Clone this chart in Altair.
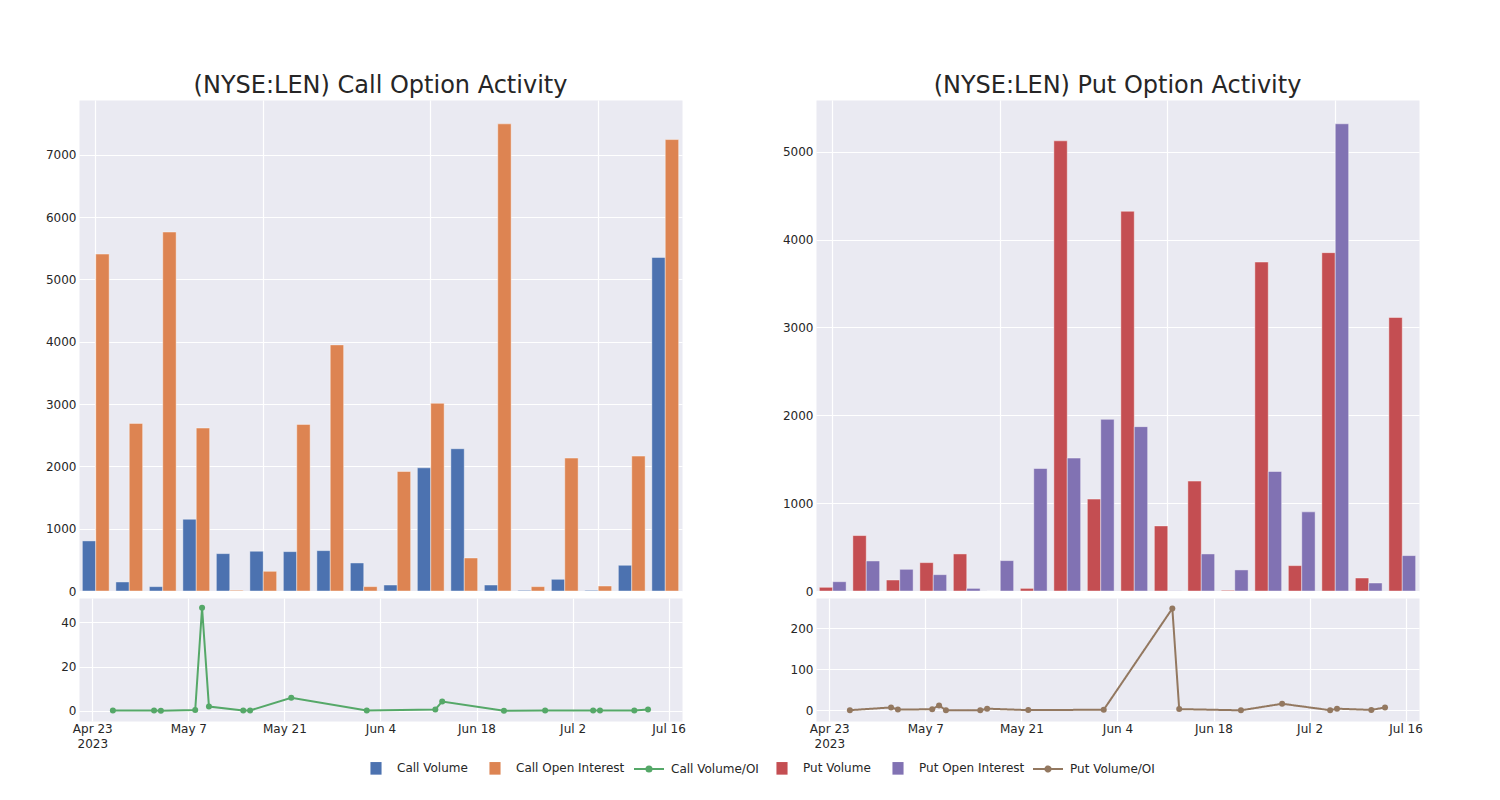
import altair as alt
import pandas as pd

# ---------------- data ----------------
dates = ["2023-04-26", "2023-05-02", "2023-05-03", "2023-05-08", "2023-05-09", "2023-05-10",
         "2023-05-15", "2023-05-16", "2023-05-22", "2023-06-02", "2023-06-12", "2023-06-13",
         "2023-06-22", "2023-06-28", "2023-07-05", "2023-07-06", "2023-07-11", "2023-07-13"]

call_volume = [804, 145, 70, 1152, 600, 638, 632, 648, 450, 96, 1977, 2283, 96, 11, 188, 11, 413, 5354]
call_oi = [5407, 2690, 5761, 2615, 12, 316, 2674, 3950, 70, 1918, 3012, 530, 7497, 70, 2133, 80, 2165, 7245]
call_ratio = [0.1, 0.05, 0.0, 0.3, 46.7, 1.9, 0.1, 0.1, 5.9, 0.05, 0.6, 4.2, 0.0, 0.1, 0.05, 0.1, 0.1, 0.6]

put_volume = [42, 631, 125, 323, 422, 0, 30, 5125, 1046, 4323, 741, 1251, 8, 3745, 289, 3852, 148, 3114]
put_oi = [106, 342, 247, 186, 30, 346, 1395, 1513, 1954, 1871, 3, 422, 240, 1361, 901, 5319, 91, 403]
put_ratio = [0.4, 7.0, 2.0, 2.5, 12.0, 0.0, 0.0, 4.0, 0.5, 1.5, 248.0, 3.0, 0.0, 16.0, 0.3, 4.0, 1.0, 7.0]

SERIES = ["Call Volume", "Call Open Interest", "Call Volume/OI",
          "Put Volume", "Put Open Interest", "Put Volume/OI"]
COLORS = ["#4C72B0", "#DD8452", "#55A868", "#C44E52", "#8172B3", "#937860"]
KINDS = ["Volume", "Open Interest"]

grid_dates = ["2023-04-23", "2023-05-07", "2023-05-21", "2023-06-04", "2023-06-18", "2023-07-02", "2023-07-16"]

# ---------------- tables ----------------
def long_bars(vol, oi, names):
    rows = []
    for d, v, o in zip(dates, vol, oi):
        rows.append({"date": d, "kind": KINDS[0], "series": names[0], "value": v})
        rows.append({"date": d, "kind": KINDS[1], "series": names[1], "value": o})
    return pd.DataFrame(rows)

call_bars_df = long_bars(call_volume, call_oi, SERIES[0:2])
put_bars_df = long_bars(put_volume, put_oi, SERIES[3:5])
call_line_df = pd.DataFrame({"date": dates, "series": SERIES[2], "value": call_ratio})
put_line_df = pd.DataFrame({"date": dates, "series": SERIES[5], "value": put_ratio})

# ---------------- styling ----------------
FONT = "DejaVu Sans"
TXT = "#262626"
SQUARE = "M-0.37,-0.42H0.37V0.42H-0.37Z"
LINEDOT = "M-1,0H1M0.17,0A0.17,0.17 0 1 1 -0.17,0A0.17,0.17 0 1 1 0.17,0Z"

PW = 603
BH = 491
LH = 123

LEG_Y = 653


def legend(x, shape, **kw):
    return alt.Legend(title=None, orient="none", legendX=x, legendY=LEG_Y, direction="horizontal",
                      symbolType=shape, symbolSize=900, labelFont=FONT, labelFontSize=12,
                      labelColor=TXT, labelOffset=6, columnPadding=12, padding=0,
                      symbolOpacity=1, **kw)


def dt(s, h=0, m=0):
    y, mo, d = (int(p) for p in s.split("-"))
    return alt.DateTime(year=y, month=mo, date=d, hours=h, minutes=m, utc=True)


def bar_chart(df, names, colors, channel, leg_x, ymax, yvals, title):
    if channel == "fill":
        enc = {"fill": alt.Fill("series:N", scale=alt.Scale(domain=names, range=colors),
                                legend=legend(leg_x, SQUARE, symbolStrokeWidth=0))}
    else:
        enc = {"color": alt.Color("series:N", scale=alt.Scale(domain=names, range=colors),
                                  legend=legend(leg_x, SQUARE, symbolStrokeWidth=0))}
    return alt.Chart(df).mark_bar(stroke="white", strokeWidth=0.7, strokeOpacity=0.6).encode(
        x=alt.X("date:N", sort=dates,
                scale=alt.Scale(paddingInner=0.2, paddingOuter=0.1),
                axis=alt.Axis(values=[dates[i] for i in (0, 5, 10, 15)], labels=False, ticks=False,
                              domain=False, grid=True, bandPosition=0.5, title=None,
                              minExtent=0, maxExtent=0)),
        xOffset=alt.XOffset("kind:N", sort=KINDS,
                            scale=alt.Scale(domain=KINDS, paddingInner=0, paddingOuter=0)),
        y=alt.Y("value:Q", scale=alt.Scale(domain=[0, ymax], nice=False, zero=True),
                axis=alt.Axis(values=yvals, title=None, format="d")),
        **enc,
    ).properties(
        width=PW, height=BH,
        title=alt.Title(title, fontSize=24, font=FONT, fontWeight="normal", color=TXT,
                        anchor="middle", frame="group", offset=-17, baseline="alphabetic"),
    )


label_expr = ("datum.index == 0 ? [utcFormat(datum.value, '%b %-d'), utcFormat(datum.value, '%Y')]"
              " : utcFormat(datum.value, '%b %-d')")


def line_chart(df, color, ydom, yvals, legend_enc):
    x = alt.X("date:T",
              scale=alt.Scale(type="utc", nice=False,
                              domain=[dt("2023-04-21", 1, 30), dt("2023-07-17", 22, 50)]),
              axis=alt.Axis(values=[dt(g) for g in grid_dates], labelExpr=label_expr,
                            grid=True, ticks=False, domain=False, title=None,
                            labelPadding=2, labelLineHeight=15))
    y = alt.Y("value:Q", scale=alt.Scale(domain=ydom, nice=False, zero=False),
              axis=alt.Axis(values=yvals, title=None, format="d"))
    line = alt.Chart(df).mark_line(strokeWidth=2, color=color).encode(x=x, y=y, **legend_enc)
    pts = alt.Chart(df).mark_circle(size=36, opacity=1, color=color).encode(x=x, y=y)
    return alt.layer(line, pts).properties(width=PW, height=LH)


call_bar = bar_chart(call_bars_df, SERIES[0:2], COLORS[0:2], "fill", 282,
                     7880, [0, 1000, 2000, 3000, 4000, 5000, 6000, 7000],
                     "(NYSE:LEN) Call Option Activity")
put_bar = bar_chart(put_bars_df, SERIES[3:5], COLORS[3:5], "color", 688,
                    5590, [0, 1000, 2000, 3000, 4000, 5000],
                    "(NYSE:LEN) Put Option Activity")

call_line = line_chart(
    call_line_df, COLORS[2], [-4.66, 51.1], [0, 20, 40],
    {"stroke": alt.Stroke("series:N", scale=alt.Scale(domain=[SERIES[2]], range=[COLORS[2]]),
                          legend=legend(554, LINEDOT, symbolStrokeWidth=2,
                                        symbolFillColor=COLORS[2]))})
put_line = line_chart(
    put_line_df, COLORS[5], [-26, 273.5], [0, 100, 200],
    {"strokeDash": alt.StrokeDash("series:N", scale=alt.Scale(domain=[SERIES[5]], range=[[1, 0]]),
                                  legend=legend(953, LINEDOT, symbolStrokeWidth=2,
                                                symbolFillColor=COLORS[5],
                                                symbolStrokeColor=COLORS[5]))})

left = alt.vconcat(call_bar, call_line, spacing=-2)
right = alt.vconcat(put_bar, put_line, spacing=-2)

chart = alt.hconcat(left, right, spacing=89).properties(
    padding={"left": 30, "top": 65, "right": 5, "bottom": 5},
    background="white",
).configure(font=FONT).configure_view(
    fill="#EAEAF2", stroke="transparent"
).configure_axis(
    labelFont=FONT, labelFontSize=12, labelColor=TXT, gridColor="white", gridWidth=1.2,
    domain=False, ticks=False, labelPadding=3,
).configure_axisY(
    minExtent=40, maxExtent=40,
)

chart.save("out.html", embed_options={"renderer": "svg", "actions": False})
